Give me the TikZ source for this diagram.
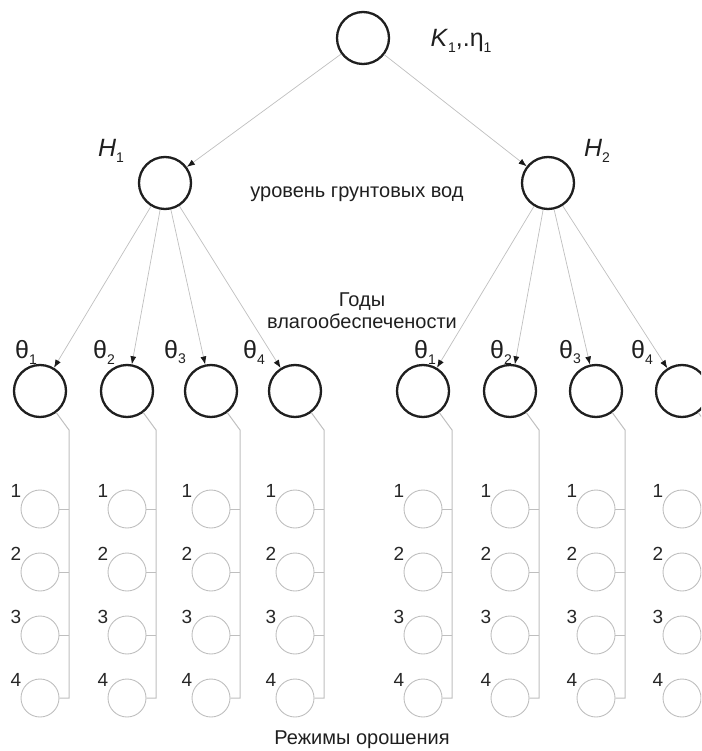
\documentclass[tikz,border=0pt]{standalone}
\usepackage{fontspec}
\setmainfont{Liberation Sans}
\usetikzlibrary{arrows.meta}
\newcommand{\sbs}[1]{\raisebox{-0.45ex}{\fontsize{14}{14}\selectfont #1}}
\begin{document}
\begin{tikzpicture}[x=1pt,y=-1pt,
  big/.style={circle,draw=black!88,line width=2.3pt,minimum size=52pt,inner sep=0pt},
  small/.style={circle,draw=black!25,line width=0.9pt,minimum size=38pt,inner sep=0pt},
  arr/.style={draw=black!25,line width=0.7pt,-{Latex[color=black!90,length=8pt,width=6pt]}},
  conn/.style={draw=black!25,line width=1pt},
  lbl/.style={inner sep=0pt,text=black!88,font=\fontsize{20}{22}\selectfont},
  num/.style={inner sep=0pt,text=black!85,font=\fontsize{19}{19}\selectfont},
  th/.style={inner sep=0pt,text=black!88,font=\fontsize{25}{25}\selectfont},
  hl/.style={inner sep=0pt,text=black!88,font=\fontsize{25}{25}\selectfont\itshape},
]
\useasboundingbox (0,0) rectangle (701,751);
\clip (0,0) rectangle (701,751);

% top
\node[big] (K) at (363,38) {};
\node[th] (Kl) at (461,41) {\textit{K}\sbs{1},.η\sbs{1}};

% second level
\node[big] (H1) at (165,183) {};
\node[big] (H2) at (548,183) {};
\node[hl] (H1l) at (111,151) {H\sbs{\upshape 1}};
\node[hl] (H2l) at (597,151) {H\sbs{\upshape 2}};
\draw[arr] (K) -- (H1);
\draw[arr] (K) -- (H2);

\node[lbl] (gw) at (357,194) {уровень грунтовых вод};
\node[lbl,align=center] (yrs) at (362,311) {Годы\\влагообеспечености};

% third level
\foreach \i/\x/\lx in {1/40/26,2/127/104,3/211/175,4/295/254} {
  \node[big] (TL\i) at (\x,391) {};
  \node[th] (TLl\i) at (\lx,352) {θ\sbs{\i}};
  \draw[arr] (H1) -- (TL\i);
}
\foreach \i/\x/\lx in {1/423/425,2/510/501,3/596/570,4/682/642} {
  \node[big] (TR\i) at (\x,391) {};
  \node[th] (TRl\i) at (\lx,352) {θ\sbs{\i}};
  \draw[arr] (H2) -- (TR\i);
}

% bottom level
\foreach \g/\cx in {TL1/40,TL2/127,TL3/211,TL4/295,TR1/423,TR2/510,TR3/596,TR4/682} {
  \foreach \j/\y in {1/509,2/572,3/635,4/698} {
    \node[small] (\g-\j) at (\cx,\y) {};
    \node[num] (\g-n\j) at ({\cx-24},{\y-18}) {\j};
  }
  \coordinate (\g-bend) at ({\cx+29},430);
  \draw[conn] (\g.-53) -- (\g-bend) -- (\g-bend |- \g-4.east) -- (\g-4.east);
  \foreach \j in {1,2,3} {
    \draw[conn] (\g-\j.east) -- (\g-\j.east -| \g-bend);
  }
}

\node[lbl] (rez) at (362,740) {Режимы орошения};
\end{tikzpicture}
\end{document}
